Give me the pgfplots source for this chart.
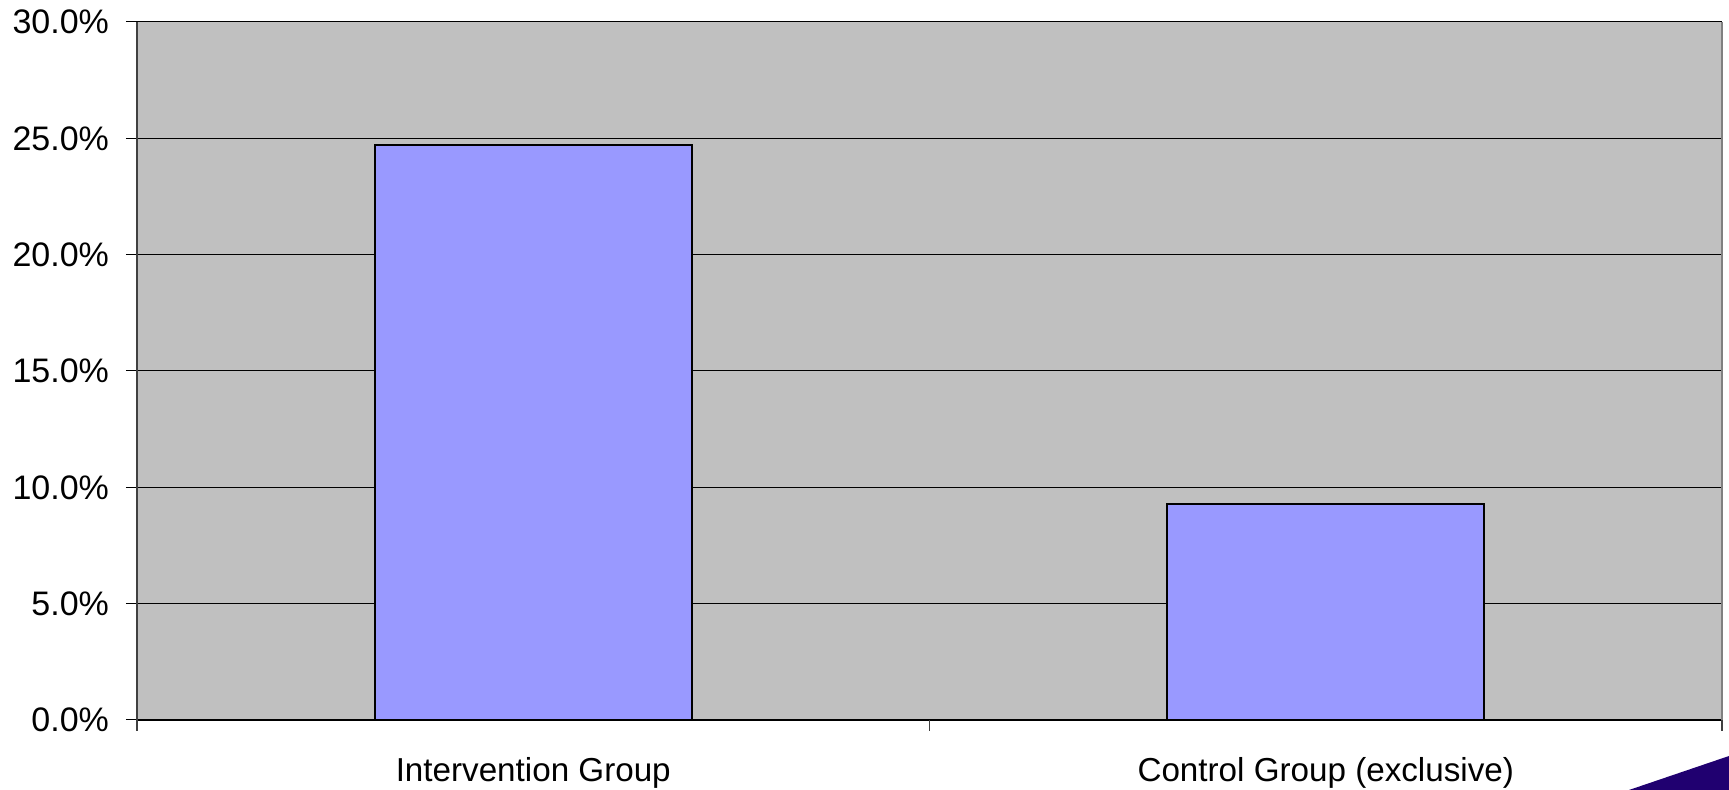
\documentclass[border=0pt]{standalone}
\usepackage{pgfplots}
\pgfplotsset{compat=1.18}
\usepackage{fontspec}
\setmainfont{Liberation Sans}
\definecolor{plotbg}{HTML}{C0C0C0}
\definecolor{barfill}{HTML}{9999FF}
\definecolor{decor}{HTML}{200070}
\begin{document}
\begin{tikzpicture}
% fixed page frame around the axis box
\useasboundingbox (-68.5pt,-35pt) rectangle (796pt,360pt);
\begin{axis}[
  at={(0,0)}, anchor=south west,
  scale only axis, width=792.5pt, height=349pt,
  xmin=-0.5, xmax=1.5, ymin=0, ymax=30,
  axis background/.style={fill=plotbg},
  axis x line*=bottom, axis y line*=left,
  x axis line style={black, line width=0.8pt, -},
  y axis line style={black!75, line width=0.8pt, -},
  ybar, bar width=0.4,
  xtick={0,1},
  xticklabels={Intervention Group, Control Group (exclusive)},
  xtick style={draw=none},
  extra x ticks={-0.5,0.5,1.5},
  extra x tick labels={},
  extra x tick style={xtick style={draw=black!75, line width=0.6pt}, major tick length=5.5pt},
  ytick={0,5,...,30},
  yticklabel={\pgfmathprintnumber[fixed,fixed zerofill,precision=1]{\tick}\%},
  /pgf/number format/assume math mode=true,
  ytick style={draw=black, line width=0.5pt},
  tick align=outside, major tick length=5.5pt,
  ymajorgrids, grid style={black, line width=0.5pt},
  yticklabel style={font=\fontsize{17}{20}\selectfont, xshift=-5pt},
  xticklabel style={font=\fontsize{16.6}{20}\selectfont, yshift=-9.5pt},
  clip=false,
]
\addplot[fill=barfill, draw=black, line width=1pt] coordinates {(0,24.7) (1,9.3)};
\draw[black!50, line width=0.8pt] (rel axis cs:1,0) -- (rel axis cs:1,1);
\end{axis}
% corner ornament of the slide
\fill[decor] (746pt,-35pt) -- (796pt,-18pt) -- (796pt,-35pt) -- cycle;
\end{tikzpicture}
\end{document}
